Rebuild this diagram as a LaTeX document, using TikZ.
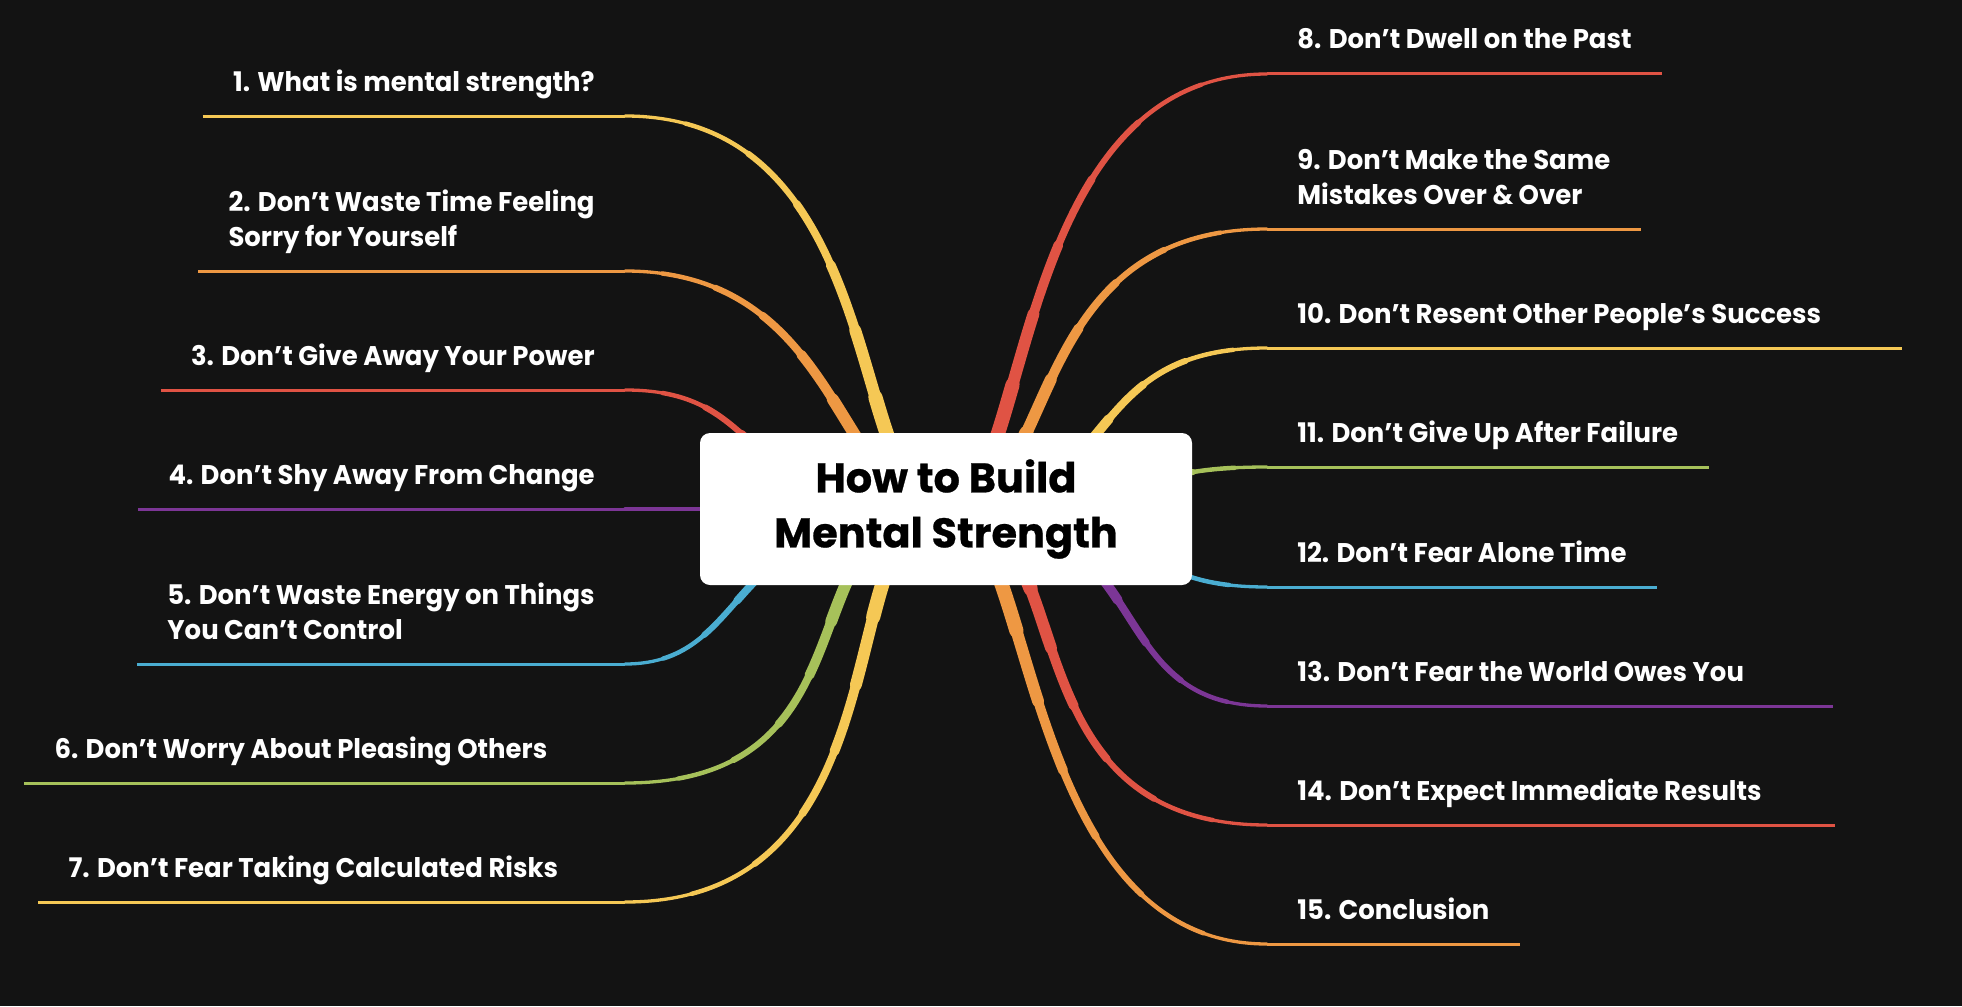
\documentclass[tikz,border=0pt]{standalone}
\usepackage{fontspec}
\setmainfont{Poppins}
\newfontfamily\twigfont{Poppins}[FakeStretch=0.96]
\newfontfamily\hubfont{Poppins}[FakeBold=0.6]
\usetikzlibrary{backgrounds}
\definecolor{Ink}{HTML}{131313}
\definecolor{Sun}{HTML}{F5C855}
\definecolor{Amber}{HTML}{EE9843}
\definecolor{Brick}{HTML}{E05344}
\definecolor{Plum}{HTML}{7C3696}
\definecolor{Sky}{HTML}{4AADD1}
\definecolor{Moss}{HTML}{A6C15A}
\newcommand{\limb}[5]{%
  \foreach \k in {0,...,7}{
    \pgfmathsetmacro{\wd}{1.5+7.5*(1-(\k+0.5)/8)^1.4}
    \pgfmathsetmacro{\dl}{\k==7 ? 3000 : 0.5*#5*(\k+1)/8}
    \draw[#1, line cap=round, line width=\wd pt, dash pattern=on \dl pt off 4000pt]
      (hub.center) .. controls +(#3,0) and +(#4,0) .. (#2);
  }}

\begin{document}
\begin{tikzpicture}[x=0.5pt,y=-0.5pt,
    hubbox/.style={fill=white, rounded corners=5pt, minimum width=246pt, minimum height=76pt,
      align=center, text=black, font=\hubfont\fontsize{20.7}{27.5}\selectfont\bfseries},
    lab/.style={text=white, align=flush left, inner xsep=15pt, inner ysep=0pt,
      font=\twigfont\fontsize{13.5}{17.25}\selectfont\bfseries},
    twig/.style={line width=1.5pt}]
          \coordinate (j1) at (625,116);
          \coordinate (j2) at (625,271);
          \coordinate (j3) at (625,390);
          \coordinate (j4) at (625,509);
          \coordinate (j5) at (625,664);
          \coordinate (j6) at (625,783);
          \coordinate (j7) at (625,902);
          \coordinate (j8) at (1267,74);
          \coordinate (j9) at (1267,229);
          \coordinate (j10) at (1267,348);
          \coordinate (j11) at (1267,467);
          \coordinate (j12) at (1267,587);
          \coordinate (j13) at (1267,706);
          \coordinate (j14) at (1267,825);
          \coordinate (j15) at (1267,944);
          \node[hubbox] (hub) at (946,509) {How to Build\\Mental Strength};
          % left labels
          \node[lab,anchor=base east] (lab1) at ([yshift=12.5pt]j1) {1. What is mental strength?};
          \node[lab,anchor=base east] (lab2) at ([yshift=12.5pt]j2) {2. Don’t Waste Time Feeling\\Sorry for Yourself};
          \node[lab,anchor=base east] (lab3) at ([yshift=12.5pt]j3) {3. Don’t Give Away Your Power};
          \node[lab,anchor=base east] (lab4) at ([yshift=12.5pt]j4) {4. Don’t Shy Away From Change};
          \node[lab,anchor=base east] (lab5) at ([yshift=12.5pt]j5) {5. Don’t Waste Energy on Things\\You Can’t Control};
          \node[lab,anchor=base east,text width=270pt] (lab6) at ([yshift=12.5pt]j6) {6. Don’t Worry About Pleasing Others};
          \node[lab,anchor=base east,text width=263pt] (lab7) at ([yshift=12.5pt]j7) {7. Don’t Fear Taking Calculated Risks};
          % right labels
          \node[lab,anchor=base west] (lab8) at ([yshift=12.5pt]j8) {8. Don’t Dwell on the Past};
          \node[lab,anchor=base west] (lab9) at ([yshift=12.5pt]j9) {9. Don’t Make the Same\\Mistakes Over \& Over};
          \node[lab,anchor=base west,text width=287pt] (lab10) at ([yshift=12.5pt]j10) {10. Don’t Resent Other People’s Success};
          \node[lab,anchor=base west] (lab11) at ([yshift=12.5pt]j11) {11. Don’t Give Up After Failure};
          \node[lab,anchor=base west] (lab12) at ([yshift=12.5pt]j12) {12. Don’t Fear Alone Time};
          \node[lab,anchor=base west,text width=252.5pt] (lab13) at ([yshift=12.5pt]j13) {13. Don’t Fear the World Owes You};
          \node[lab,anchor=base west,text width=253.5pt] (lab14) at ([yshift=12.5pt]j14) {14. Don’t Expect Immediate Results};
          \node[lab,anchor=base west] (lab15) at ([yshift=12.5pt]j15) {15. Conclusion};
          \begin{scope}[on background layer]
            \fill[Ink] (0,0) rectangle (1962,1006);
            \limb{Sun}{j1}{-100}{270}{560}
            \limb{Amber}{j2}{-110}{220}{440}
            \limb{Brick}{j3}{-220}{150}{360}
            \limb{Plum}{j4}{-100}{100}{321}
            \limb{Sky}{j5}{-225}{130}{380}
            \limb{Moss}{j6}{-165}{262}{465}
            \limb{Sun}{j7}{-118}{290}{560}
            \limb{Brick}{j8}{85}{-260}{590}
            \limb{Amber}{j9}{115}{-250}{470}
            \limb{Sun}{j10}{180}{-195}{390}
            \limb{Moss}{j11}{220}{-150}{335}
            \limb{Sky}{j12}{220}{-150}{340}
            \limb{Plum}{j13}{215}{-172}{410}
            \limb{Brick}{j14}{140}{-270}{500}
            \limb{Amber}{j15}{90}{-250}{590}
            \draw[twig,Sun] (lab1.west |- j1) -- (j1);
            \draw[twig,Amber] (lab2.west |- j2) -- (j2);
            \draw[twig,Brick] (lab3.west |- j3) -- (j3);
            \draw[twig,Plum] (lab4.west |- j4) -- (j4);
            \draw[twig,Sky] (lab5.west |- j5) -- (j5);
            \draw[twig,Moss] (lab6.west |- j6) -- (j6);
            \draw[twig,Sun] (lab7.west |- j7) -- (j7);
            \draw[twig,Brick] (j8) -- (lab8.east |- j8);
            \draw[twig,Amber] (j9) -- (lab9.east |- j9);
            \draw[twig,Sun] (j10) -- (lab10.east |- j10);
            \draw[twig,Moss] (j11) -- (lab11.east |- j11);
            \draw[twig,Sky] (j12) -- (lab12.east |- j12);
            \draw[twig,Plum] (j13) -- (lab13.east |- j13);
            \draw[twig,Brick] (j14) -- (lab14.east |- j14);
            \draw[twig,Amber] (j15) -- (lab15.east |- j15);
          \end{scope}
        \end{tikzpicture}
\end{document}
